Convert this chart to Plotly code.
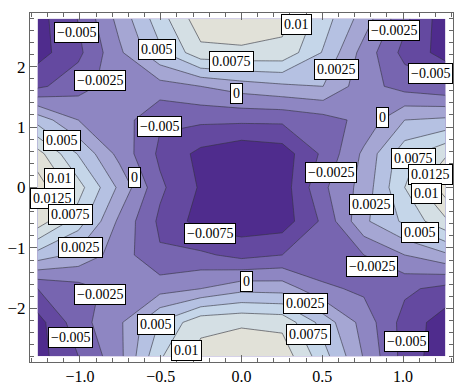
import plotly.graph_objects as go

# grid coordinates
x_vals = [-1.262, -1.010, -0.757, -0.505, -0.252, 0.0, 0.252, 0.505, 0.757, 1.010, 1.262]
y_top_to_bottom = [2.789, 2.231, 1.673, 1.116, 0.558, 0.0, -0.558, -1.116, -1.673, -2.231, -2.789]

# values, rows from top (y=2.79) to bottom (y=-2.79)
row_01 = [-0.0085, -0.0049, 0.0008, 0.0064, 0.0115, 0.0118, 0.0108, 0.0062, 0.0013, -0.0044, -0.0090]
row_02 = [-0.0085, -0.0056, -0.0005, 0.0045, 0.0093, 0.0095, 0.0093, 0.0048, -0.0010, -0.0058, -0.0085]
row_03 = [-0.0055, -0.0035, -0.0012, -0.0010, 0.0000, 0.0012, 0.0020, 0.0025, -0.0015, -0.0035, -0.0045]
row_04 = [0.0040, 0.0000, -0.0012, -0.0047, -0.0045, -0.0045, -0.0045, -0.0035, -0.0018, 0.0025, 0.0030]
row_05 = [0.0110, 0.0048, -0.0008, -0.0055, -0.0082, -0.0095, -0.0088, -0.0045, 0.0005, 0.0066, 0.0095]
row_06 = [0.0138, 0.0085, 0.0020, -0.0045, -0.0078, -0.0098, -0.0088, -0.0030, 0.0010, 0.0075, 0.0138]
row_07 = [0.0115, 0.0062, -0.0005, -0.0055, -0.0085, -0.0090, -0.0088, -0.0045, 0.0020, 0.0055, 0.0095]
row_08 = [0.0040, 0.0018, -0.0012, -0.0047, -0.0045, -0.0058, -0.0050, -0.0045, -0.0025, 0.0000, 0.0020]
row_09 = [-0.0050, -0.0035, -0.0015, -0.0010, 0.0000, 0.0017, 0.0015, -0.0020, -0.0030, -0.0045, -0.0058]
row_10 = [-0.0085, -0.0035, -0.0005, 0.0052, 0.0093, 0.0097, 0.0093, 0.0040, -0.0010, -0.0060, -0.0088]
row_11 = [-0.0085, -0.0050, -0.0008, 0.0072, 0.0108, 0.0115, 0.0115, 0.0060, -0.0002, -0.0060, -0.0092]

z_rows = [row_01, row_02, row_03, row_04, row_05, row_06, row_07, row_08, row_09, row_10, row_11]

# contour levels
level_start = -0.0075
level_end = 0.0125
level_step = 0.0025

# contour labels (text) and where they sit
label_texts = ["−0.005", "0.005", "0.01", "−0.0025", "−0.0025", "0.0075", "0.0025", "−0.005",
               "0", "0", "−0.005", "0.005", "0.01", "0", "0.0075", "0.0125", "−0.0025",
               "0.0125", "0.01", "0.0025", "0.005", "−0.0075", "0.0075", "0.0025",
               "−0.0025", "0", "−0.0025", "0.0025", "0.005", "0.0075", "−0.005", "−0.005", "0.01"]
label_x = [-1.022, -0.522, 0.343, 0.941, -0.873, -0.059, 0.590, 1.309,
           -0.028, 0.873, -0.509, -1.108, -1.127, -0.664, 1.065, 1.309, 0.552,
           -1.309, 1.145, 0.806, 1.102, -0.194, -1.059, -0.997,
           0.806, 0.028, -0.873, 0.398, -0.528, 0.417, -1.059, 1.022, -0.343]
label_y = [2.561, 2.285, 2.691, 2.593, 1.764, 2.089, 1.959, 1.878,
           1.553, 1.163, 1.016, 0.772, 0.154, 0.171, 0.480, 0.220, 0.252,
           -0.187, -0.106, -0.285, -0.740, -0.756, -0.447, -1.000,
           -1.309, -1.553, -1.764, -1.911, -2.268, -2.431, -2.480, -2.545, -2.691]

x_tick_vals = [-1.0, -0.5, 0.0, 0.5, 1.0]
x_tick_text = ["−1.0", "−0.5", "0.0", "0.5", "1.0"]
y_tick_vals = [-2, -1, 0, 1, 2]
y_tick_text = ["−2", "−1", "0", "1", "2"]

band_colors = ["#4F2C8D", "#6449A0", "#7765B0", "#8E86C2", "#A5A6D3",
               "#B5C1E2", "#C5D6E9", "#D4DFE4", "#E1E1D8", "#E7E3D5"]

y_vals = y_top_to_bottom[::-1]
z = z_rows[::-1]

n = len(band_colors)
colorscale = [[i / (n - 1), c] for i, c in enumerate(band_colors)]

fig = go.Figure()
fig.add_trace(go.Contour(
    x=x_vals, y=y_vals, z=z,
    contours=dict(start=level_start, end=level_end, size=level_step,
                  coloring="fill", showlines=True),
    colorscale=colorscale,
    line=dict(color="rgba(50,50,60,0.75)", width=0.8, smoothing=0),
    showscale=False,
    hoverinfo="skip",
))

annotations = []
for t, lx, ly in zip(label_texts, label_x, label_y):
    anchor = "center"
    if lx <= -1.3:
        anchor = "left"
    elif lx >= 1.3:
        anchor = "right"
    annotations.append(dict(
        x=lx, y=ly, xref="x", yref="y", text=t, showarrow=False,
        xanchor=anchor, yanchor="middle",
        font=dict(family="Liberation Serif", size=14, color="black"),
        bgcolor="white", bordercolor="black", borderwidth=1, borderpad=2,
    ))

axis_common = dict(
    showline=True, linecolor="#666666", linewidth=1, mirror="ticks",
    ticks="inside", ticklen=7, tickcolor="#666666", tickwidth=1,
    showgrid=False, zeroline=False,
)

fig.update_layout(
    width=454, height=385,
    margin=dict(l=30, r=0, t=13, b=17),
    paper_bgcolor="white", plot_bgcolor="white",
    xaxis=dict(range=[-1.309, 1.309], tickvals=x_tick_vals, ticktext=x_tick_text,
               minor=dict(dtick=0.1, ticklen=4, tickcolor="#666666", ticks="inside"),
               tickfont=dict(family="Liberation Serif", size=16, color="black"),
               **axis_common),
    yaxis=dict(range=[-2.886, 2.886], tickvals=y_tick_vals, ticktext=y_tick_text,
               minor=dict(dtick=0.2, ticklen=4, tickcolor="#666666", ticks="inside"),
               tickfont=dict(family="Liberation Serif", size=17, color="black"),
               **axis_common),
    annotations=annotations,
    showlegend=False,
)

fig.write_html("out.html",
               config={"displayModeBar": False},
               post_script="document.body.style.margin='0';document.body.style.overflow='hidden';")
